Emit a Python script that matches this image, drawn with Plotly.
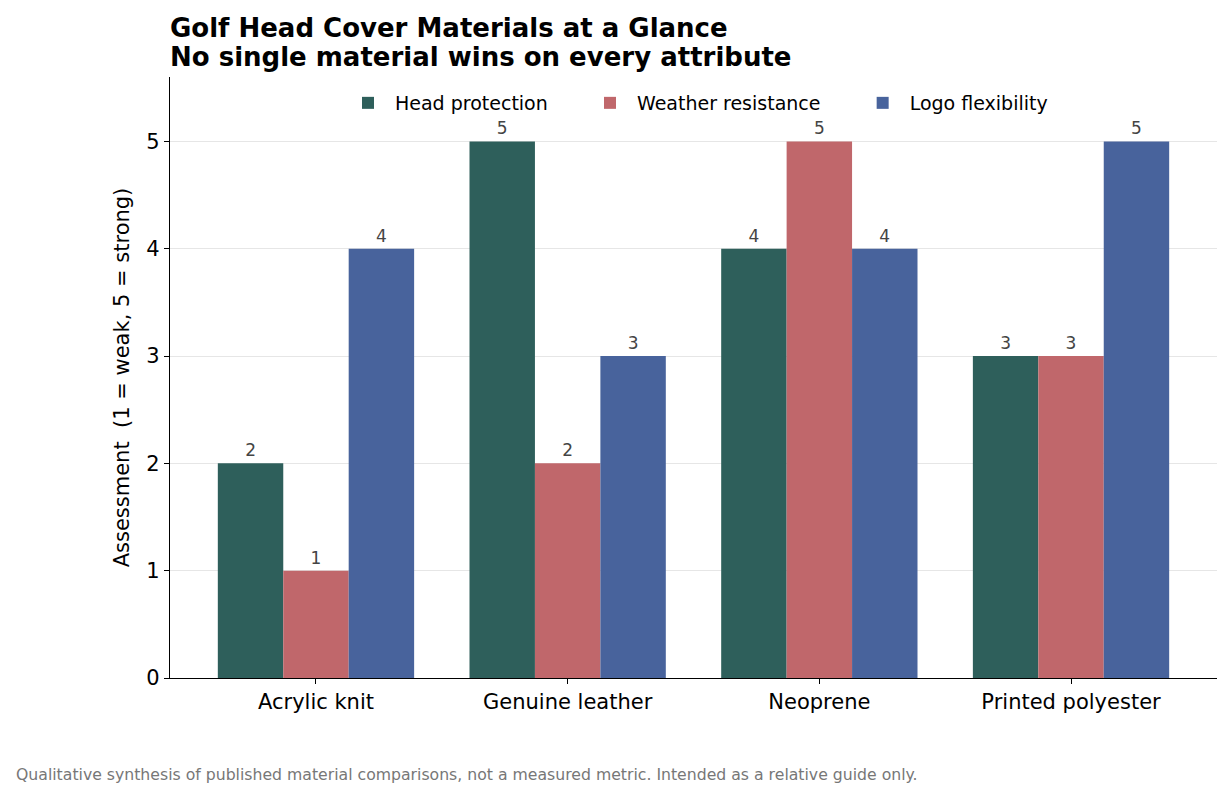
import plotly.graph_objects as go

categories = ["Acrylic knit", "Genuine leather", "Neoprene", "Printed polyester"]
head_protection = [2, 5, 4, 3]
weather_resistance = [1, 2, 5, 3]
logo_flexibility = [4, 3, 4, 5]
series_names = ["Head protection", "Weather resistance", "Logo flexibility"]
colors = ["#2e5f5b", "#c0676b", "#48639c"]
y_ticks = [0, 1, 2, 3, 4, 5]

# page has an 8px body margin; size figure so the plot area lands where the reference has it
OFF = 8
W, H = 1231 - OFF, 797 - OFF
PL, PR, PT, PB = 170, 1217, 77, 678  # plot area in page pixels
L, T = PL - OFF, PT - OFF
R = W - (PR - OFF)
B = H - (PB - OFF)
PH = PB - PT
PW = PR - PL
FONT = "DejaVu Sans"
PAD = "\u00a0" * 5


def py(page_y):
    return (PB - page_y) / PH


def px(page_x):
    return (page_x - PL) / PW


fig = go.Figure()
for name, vals, col in zip(series_names, [head_protection, weather_resistance, logo_flexibility], colors):
    fig.add_trace(go.Bar(
        x=categories, y=vals, name=name + PAD, marker_color=col, marker_line_width=0,
        text=[str(v) for v in vals], textposition="outside", cliponaxis=False,
        textfont=dict(family=FONT, size=17, color="#444444"),
    ))

fig.update_layout(
    width=W, height=H,
    margin=dict(l=L, r=R, t=T, b=B),
    paper_bgcolor="white", plot_bgcolor="white",
    barmode="group", bargap=0.22, bargroupgap=0,
    font=dict(family=FONT, size=21, color="black"),
    legend=dict(
        orientation="h", x=px(341), xanchor="left", y=py(103), yanchor="middle",
        font=dict(family=FONT, size=19, color="black"), bgcolor="rgba(0,0,0,0)",
        traceorder="normal", itemwidth=44,
    ),
    showlegend=True,
)

fig.update_xaxes(
    range=[-0.58, 3.58], showline=True, linecolor="black", linewidth=1.3,
    ticks="outside", ticklen=5, tickcolor="black", showgrid=False,
    tickfont=dict(family=FONT, size=21, color="black"),
)
fig.update_yaxes(
    range=[0, 5.6], tickvals=y_ticks, showline=True, linecolor="black", linewidth=1.3,
    ticks="outside", ticklen=5, tickcolor="black", showgrid=True,
    gridcolor="#e6e6e6", gridwidth=1, zeroline=False,
    tickfont=dict(family=FONT, size=21, color="black"),
    title=dict(text="Assessment \u00a0(1 = weak, 5 = strong)",
               font=dict(family=FONT, size=21, color="black"), standoff=10),
)

for txt, yy in [("Golf Head Cover Materials at a Glance", 28),
                ("No single material wins on every attribute", 57)]:
    fig.add_annotation(
        text="<b>" + txt + "</b>", xref="paper", yref="paper",
        x=px(168), y=py(yy), xanchor="left", yanchor="middle", showarrow=False,
        font=dict(family=FONT, size=26, color="black"),
    )

fig.add_annotation(
    text="Qualitative synthesis of published material comparisons, not a measured metric. Intended as a relative guide only.",
    xref="paper", yref="paper", x=px(14), y=py(774),
    xanchor="left", yanchor="middle", showarrow=False,
    font=dict(family=FONT, size=15.7, color="#777777"),
)

fig.write_html("out.html")
